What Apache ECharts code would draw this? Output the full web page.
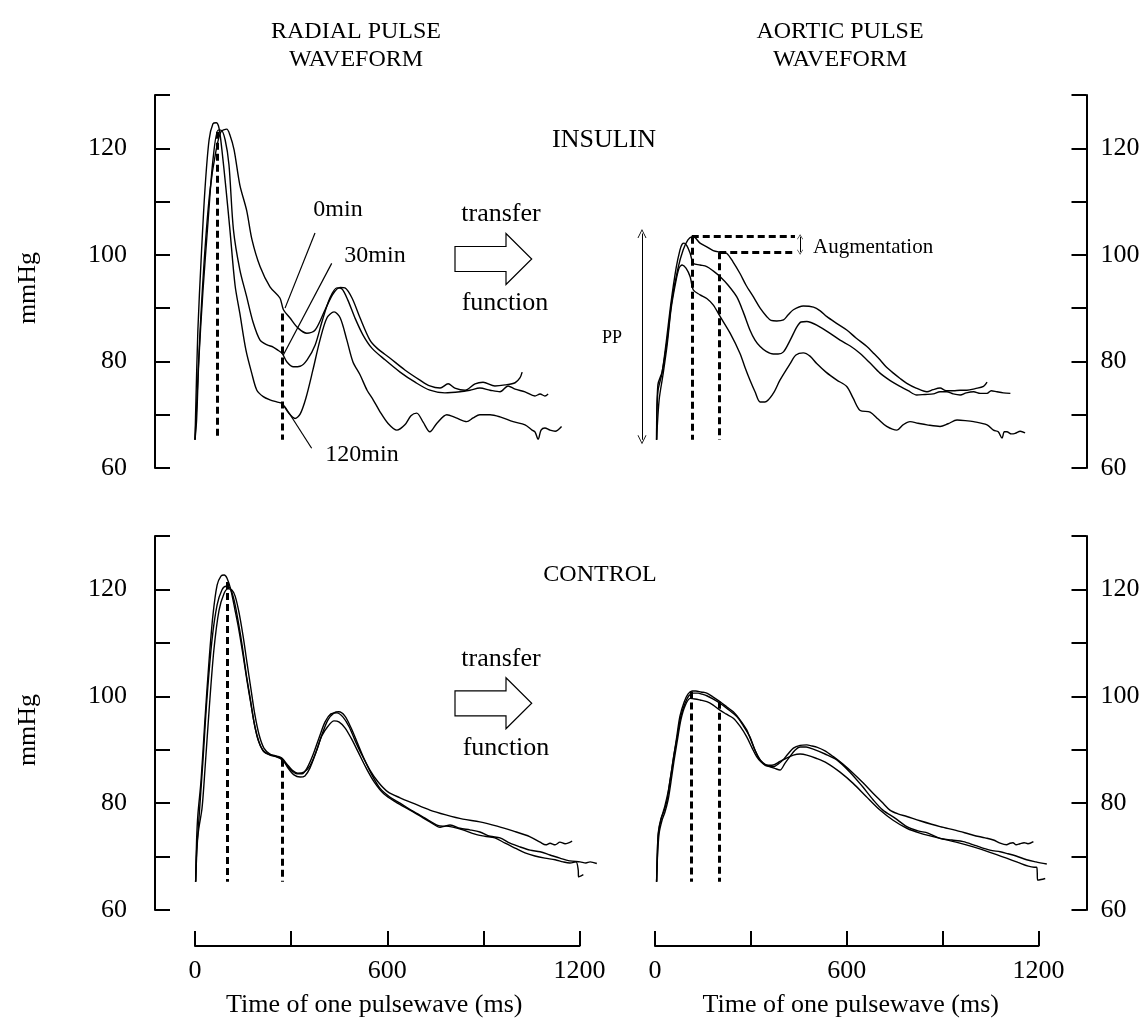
<!DOCTYPE html>
<html><head><meta charset="utf-8">
<script src="https://cdn.jsdelivr.net/npm/echarts/dist/echarts.min.js"></script>
<style>html,body{margin:0;padding:0;background:#fff}#c{width:1145px;height:1023px}</style>
</head><body><div id="c"></div>
<script>
// ---------- DATA (time in ms, pressure in mmHg) ----------
const radialInsulin0 = [[0,65.3],[6,72.8],[16,85.9],[31,100.9],[47,112.2],[66,119.7],[81,123.1],[99,123.6],[109,122.5],[122,119.7],[140,113.1],[161,108.4],[178,102.8],[203,97.8],[234,94.0],[265,91.9],[276,89.7],[296,88.2],[321,86.3],[349,85.3],[375,85.9],[406,89.7],[431,92.7],[453,93.9],[468,93.8],[490,91.9],[515,88.2],[546,84.0],[568,82.5],[609,80.6],[655,78.4],[702,76.5],[733,75.4],[765,75.0],[790,75.8],[811,75.0],[843,74.6],[874,75.8],[899,76.1],[936,75.4],[968,75.6],[999,76.0],[1014,76.9],[1021,78.0]];
const radialInsulin30 = [[0,65.3],[5,69.0],[12,80.3],[25,93.4],[41,106.5],[56,117.8],[72,123.4],[81,123.4],[94,121.6],[106,116.9],[120,104.7],[140,97.2],[161,92.2],[181,87.4],[203,84.0],[225,83.1],[244,82.7],[259,82.1],[272,81.5],[287,79.9],[307,79.0],[328,79.1],[350,80.3],[375,83.1],[396,87.4],[421,91.9],[443,93.8],[459,93.6],[477,91.5],[499,88.2],[524,85.0],[552,82.5],[593,80.3],[640,78.0],[687,76.1],[733,74.6],[780,74.1],[827,74.3],[858,74.6],[889,75.0],[921,74.6],[952,74.3],[977,75.4],[999,74.8],[1030,74.3],[1061,73.5],[1077,73.9],[1092,73.5],[1102,73.9]];
const radialInsulin120 = [[0,65.3],[3,72.8],[9,85.9],[19,99.0],[31,112.2],[44,121.6],[56,124.6],[66,124.8],[75,123.8],[84,119.7],[97,112.2],[109,104.7],[125,94.3],[140,89.0],[159,82.1],[177,77.8],[193,74.6],[213,73.4],[234,72.8],[255,72.4],[272,72.1],[290,70.5],[312,69.3],[328,70.1],[346,73.1],[368,78.4],[390,84.0],[412,88.2],[434,89.3],[453,88.2],[474,84.0],[493,79.9],[515,77.5],[537,74.6],[556,72.8],[577,70.6],[602,68.4],[630,67.1],[655,68.1],[674,69.8],[692,70.3],[712,68.6],[733,66.8],[755,68.4],[786,70.0],[815,69.4],[848,68.7],[868,69.4],[889,70.0],[921,70.0],[952,69.6],[993,68.7],[1030,68.1],[1052,67.1],[1061,66.8],[1071,65.4],[1080,67.1],[1092,67.5],[1108,67.1],[1124,66.9],[1144,67.8]];

const aorticInsulin0 = [[5,65.3],[9,75.6],[22,78.0],[38,84.0],[53,91.5],[72,97.5],[88,100.9],[103,102.8],[116,103.4],[120,103.4],[141,102.2],[162,101.5],[182,100.8],[204,100.5],[224,100.3],[244,98.7],[266,96.5],[285,94.3],[308,92.1],[329,90.0],[350,88.4],[363,87.7],[381,87.6],[402,87.8],[416,88.7],[433,89.7],[464,90.4],[496,90.2],[517,89.5],[538,88.4],[567,87.2],[600,85.9],[629,84.4],[663,82.8],[683,81.6],[704,80.3],[723,79.0],[746,77.8],[767,76.8],[788,75.9],[817,75.0],[851,74.3],[870,74.7],[892,75.0],[911,74.5],[934,74.5],[955,74.6],[976,74.6],[1002,74.9],[1028,75.3],[1039,76.1]];
const aorticInsulin30 = [[5,65.3],[9,74.3],[22,77.8],[34,83.1],[50,91.0],[66,97.5],[78,100.9],[85,102.0],[91,102.2],[100,101.7],[110,100.3],[120,98.4],[141,98.1],[162,97.8],[182,97.0],[204,95.9],[229,94.3],[256,92.1],[276,89.3],[297,85.9],[313,84.0],[329,82.8],[348,81.9],[370,81.4],[385,81.4],[402,81.8],[423,84.0],[444,86.5],[457,87.4],[475,87.5],[488,87.3],[506,86.8],[542,85.5],[579,84.0],[611,82.9],[642,81.5],[673,79.7],[704,77.8],[736,76.4],[767,75.3],[792,74.5],[819,73.7],[845,73.8],[871,73.9],[892,74.3],[913,74.3],[933,73.9],[955,73.7],[974,74.1],[997,74.3],[1018,74.0],[1039,74.0],[1052,74.5],[1070,74.3],[1090,74.1],[1112,74.0]];
const aorticInsulin120 = [[5,65.3],[13,72.8],[25,77.5],[38,83.1],[50,89.7],[63,94.3],[75,97.5],[85,98.1],[97,97.5],[110,95.9],[120,93.4],[141,92.5],[162,91.8],[182,90.6],[204,88.4],[235,85.3],[266,81.5],[282,78.8],[297,76.5],[313,74.3],[329,72.4],[344,72.4],[370,74.0],[391,76.5],[423,79.6],[441,81.2],[464,81.6],[485,81.0],[506,79.6],[535,78.0],[569,76.5],[600,75.3],[620,73.1],[642,70.8],[673,70.5],[698,69.2],[725,67.8],[757,67.1],[776,68.1],[798,68.7],[823,68.4],[851,68.1],[892,67.8],[917,68.3],[945,69.0],[971,68.9],[997,68.7],[1039,68.1],[1059,67.1],[1074,66.8],[1086,65.6],[1093,66.8],[1101,66.8],[1115,66.4],[1127,66.5],[1143,66.9],[1158,66.6]];

const radialControlA = [[2,65.3],[5,73.1],[9,77.8],[19,84.3],[31,95.6],[44,106.8],[56,115.2],[69,120.8],[81,122.5],[91,122.7],[100,122.1],[112,119.9],[125,116.1],[137,112.4],[150,107.7],[162,103.0],[175,98.4],[187,94.3],[200,91.4],[215,89.6],[234,89.0],[256,88.6],[272,88.1],[287,87.1],[303,86.0],[318,85.5],[334,85.5],[350,86.6],[368,89.0],[387,92.2],[406,95.2],[424,96.7],[443,96.9],[462,96.1],[481,94.3],[499,91.8],[521,89.0],[546,86.2],[571,84.0],[602,82.1],[640,81.0],[680,80.0],[733,78.7],[783,77.8],[836,77.0],[889,76.5],[943,75.7],[992,74.8],[1046,73.7],[1077,72.7],[1095,72.2],[1108,72.5],[1124,72.2],[1139,72.7],[1155,72.4],[1177,72.9]];
const radialControlB = [[2,65.3],[6,71.2],[12,76.8],[25,88.1],[37,99.3],[53,110.5],[69,117.1],[84,119.9],[97,120.6],[109,120.3],[122,118.0],[134,114.3],[147,109.6],[159,104.5],[172,99.7],[184,95.2],[197,91.8],[212,89.9],[228,89.2],[250,88.8],[272,88.3],[290,86.6],[309,85.3],[328,84.9],[343,85.1],[359,86.6],[378,89.6],[396,92.8],[415,95.6],[434,96.9],[449,97.1],[468,96.3],[487,94.1],[506,91.4],[527,88.4],[552,85.3],[577,82.8],[609,81.1],[640,80.0],[680,78.5],[718,77.2],[755,75.9],[774,75.7],[796,75.9],[827,75.3],[858,75.0],[889,74.6],[921,73.8],[952,73.5],[983,72.5],[1014,71.8],[1046,71.2],[1077,70.9],[1108,70.3],[1139,69.7],[1170,69.2],[1202,69.0],[1220,68.8],[1233,69.0],[1254,68.7]];
const radialControlC = [[2,65.3],[6,72.2],[12,75.3],[22,79.1],[31,86.2],[44,97.4],[59,108.7],[75,116.1],[91,119.3],[103,120.1],[115,119.9],[125,118.8],[137,115.8],[150,111.3],[162,106.4],[175,101.2],[187,96.5],[200,92.8],[215,90.3],[234,89.2],[256,88.8],[272,88.4],[287,87.3],[303,86.2],[321,85.6],[340,85.8],[359,87.0],[378,89.6],[396,92.6],[415,94.4],[434,95.4],[449,95.2],[468,94.1],[487,92.2],[509,89.6],[534,86.6],[559,84.0],[590,81.7],[627,80.2],[671,78.7],[702,77.6],[733,76.5],[765,75.5],[783,75.7],[805,75.5],[836,75.0],[874,74.2],[905,73.8],[936,73.5],[968,72.5],[999,71.6],[1030,70.7],[1061,70.1],[1092,69.7],[1124,69.4],[1149,69.0],[1170,68.8],[1189,69.0],[1196,67.5],[1197,66.2],[1205,66.4],[1212,66.6]];

const aorticControlA = [[5,65.3],[8,71.2],[10,74.4],[19,77.2],[28,78.5],[38,80.6],[47,84.3],[57,88.1],[69,92.8],[78,96.3],[91,98.9],[103,100.4],[116,101.0],[128,101.0],[144,100.8],[162,100.6],[181,99.9],[203,99.0],[225,98.0],[245,97.1],[266,95.6],[287,93.7],[300,91.8],[313,89.9],[325,88.4],[339,87.5],[354,87.0],[370,86.8],[385,87.3],[401,88.1],[416,89.2],[433,90.3],[454,90.8],[475,90.9],[491,90.7],[506,90.5],[532,89.8],[558,88.7],[588,87.3],[620,85.6],[651,83.8],[683,81.8],[710,80.2],[735,78.7],[760,78.0],[788,77.5],[829,76.7],[892,75.6],[942,74.9],[996,74.0],[1033,73.5],[1059,73.1],[1080,72.5],[1100,72.2],[1111,72.5],[1120,72.6],[1130,72.2],[1142,72.4],[1155,72.6],[1167,72.4],[1184,72.8]];
const aorticControlB = [[5,65.3],[8,72.2],[13,75.3],[22,77.6],[31,79.5],[41,82.1],[50,85.3],[59,89.0],[69,92.2],[81,96.3],[94,98.7],[106,100.1],[120,100.6],[135,100.6],[147,100.4],[162,100.1],[181,99.5],[203,98.7],[228,97.6],[256,96.2],[275,94.6],[297,92.4],[313,89.9],[329,88.1],[344,87.1],[360,86.8],[375,86.5],[391,86.2],[407,87.5],[422,88.7],[438,89.9],[454,90.5],[473,90.5],[495,90.1],[532,89.2],[569,88.1],[610,85.8],[648,83.2],[683,80.6],[713,78.7],[751,77.2],[788,75.6],[823,74.8],[854,74.4],[892,73.4],[929,73.1],[965,72.8],[1001,72.1],[1048,71.2],[1080,70.9],[1100,70.6],[1130,70.1],[1163,69.4],[1192,69.0],[1226,68.6]];
const aorticControlC = [[5,65.3],[8,70.3],[13,74.4],[22,76.8],[31,78.3],[41,80.6],[50,84.0],[59,87.7],[69,91.4],[81,95.6],[94,98.2],[110,99.6],[125,99.5],[141,99.3],[162,99.0],[181,98.4],[203,97.4],[222,96.7],[245,95.9],[266,94.4],[287,92.4],[304,90.3],[318,88.7],[332,87.7],[350,87.1],[366,87.1],[391,87.8],[410,88.4],[433,89.0],[454,89.2],[475,89.0],[504,88.4],[538,87.5],[579,85.8],[620,83.7],[660,81.3],[704,78.7],[745,76.8],[788,75.3],[829,74.4],[892,73.4],[942,72.7],[996,71.8],[1048,70.8],[1100,69.7],[1136,68.9],[1168,68.2],[1186,68.0],[1194,68.0],[1196,67.1],[1197,65.6],[1208,65.7],[1221,65.9]];

// annotation markers (ms, mmHg)
const radialInsulinMarks = [[69.6,123.1],[272.5,89.0]];
const aorticInsulinMarks = [[115,103.4],[201,100.5]];
const radialControlMarks = [[102,121.4],[272.5,88.1]];
const aorticControlMarks = [[112,100.9],[201,99.0]];
const markBase = 65.3;
const augmentationEnd = 438;
const augmentationArrowX = 454;
const ppArrow = [-40.7, 104.0, 65.3];
const leaderLines = [[[374.5,104.1],[281,90.0]],[[426.6,98.4],[275.6,81.2]],[[281,71.5],[364,63.7]]];

const xTicks = [0,300,600,900,1200];
const xLabels = [0,600,1200];
const yMin = 60, yMax = 130, yStep = 10;

// ---------- LAYOUT ----------
const FONT = '"Liberation Serif", "Times New Roman", serif';
const L0 = 195, L1200 = 579.5, R0 = 655, R1200 = 1038.5;
const pxL = (L1200 - L0) / 1200, pxR = (R1200 - R0) / 1200;
const gLeft = 155, gLeftW = 470, gRight = 600, gRightW = 486.5;
const xLmin = -(L0 - gLeft) / pxL, xLmax = (gLeft + gLeftW - L0) / pxL;
const xRmin = -(R0 - gRight) / pxR, xRmax = (gRight + gRightW - R0) / pxR;

const grids = [
  {left: gLeft, top: 95, width: gLeftW, height: 373},
  {left: gRight, top: 95, width: gRightW, height: 373},
  {left: gLeft, top: 536, width: gLeftW, height: 374},
  {left: gRight, top: 536, width: gRightW, height: 374},
  {left: L0, top: 900, width: L1200 - L0, height: 46},
  {left: R0, top: 900, width: R1200 - R0, height: 46}
];

function hiddenX(i, mn, mx) { return {type: 'value', gridIndex: i, min: mn, max: mx, show: false}; }
function visX(i, pad) {
  return {type: 'value', gridIndex: i, min: 0, max: 1200, position: 'bottom',
    axisLine: {show: true, onZero: false, lineStyle: {color: '#000', width: 2}},
    axisTick: {show: true, inside: true, length: 15, lineStyle: {color: '#000', width: 2}, customValues: xTicks},
    axisLabel: {show: true, customValues: xLabels, color: '#000', fontSize: 26, fontFamily: FONT, margin: 12,
      formatter: v => String(v)},
    splitLine: {show: false},
    name: 'Time of one pulsewave (ms)', nameLocation: 'middle', nameGap: 46,
    nameTextStyle: {color: '#000', fontSize: 26, fontFamily: FONT, padding: pad}};
}
function yAx(i, pos, withName, pad) {
  const a = {type: 'value', gridIndex: i, position: pos, min: yMin, max: yMax, interval: yStep,
    axisLine: {show: true, onZero: false, lineStyle: {color: '#000', width: 2}},
    axisTick: {show: true, inside: true, length: 15, lineStyle: {color: '#000', width: 2}},
    axisLabel: {show: true, color: '#000', fontSize: 26, fontFamily: FONT, margin: pos === 'left' ? 28 : 14,
      formatter: v => (v % 20 === 0 ? String(v) : '')},
    splitLine: {show: false}};
  if (withName) {
    a.name = 'mmHg'; a.nameLocation = 'middle'; a.nameGap = 114; a.nameRotate = 90;
    a.nameTextStyle = {color: '#000', fontSize: 26, fontFamily: FONT, padding: pad};
  }
  return a;
}
const dummyY = i => ({type: 'value', gridIndex: i, min: 0, max: 1, show: false});

const lineStyle = {color: '#000', width: 1.4};
function curve(data, idx, extra) {
  return Object.assign({type: 'line', xAxisIndex: idx, yAxisIndex: idx, data: data, symbol: 'none',
    showSymbol: false, smooth: 0.3, lineStyle: lineStyle, silent: true, clip: false, z: 3}, extra || {});
}
const dashStyle = {color: '#000', width: 3, type: [7, 4]};
function dashMarks(marks, extraLines) {
  const d = marks.map(m => [{coord: [m[0], m[1]]}, {coord: [m[0], markBase]}]);
  return {silent: true, symbol: 'none', animation: false, label: {show: false},
    lineStyle: dashStyle, data: d.concat(extraLines || [])};
}
const chevron = 'path://M0,10 L5,0 L10,10 L9,10 L5,2 L1,10 Z';

const option = {
  animation: false,
  backgroundColor: '#fff',
  grid: grids,
  xAxis: [hiddenX(0, xLmin, xLmax), hiddenX(1, xRmin, xRmax), hiddenX(2, xLmin, xLmax), hiddenX(3, xRmin, xRmax),
          visX(4, [0, 26, 0, 0]), visX(5, [0, 0, 0, 8])],
  yAxis: [yAx(0, 'left', true, [0, 13, 0, 0]), yAx(1, 'right', false), yAx(2, 'left', true, [0, 14, 0, 0]), yAx(3, 'right', false), dummyY(4), dummyY(5)],
  series: [
    curve(radialInsulin0, 0, {markLine: dashMarks(radialInsulinMarks)}),
    curve(radialInsulin30, 0, {markLine: {silent: true, symbol: 'none', label: {show: false},
      lineStyle: {color: '#000', width: 1.2, type: 'solid'},
      data: leaderLines.map(l => [{coord: l[0]}, {coord: l[1]}])}}),
    curve(radialInsulin120, 0),
    curve(aorticInsulin0, 1, {markLine: dashMarks(aorticInsulinMarks, [
      [{coord: aorticInsulinMarks[0]}, {coord: [augmentationEnd, aorticInsulinMarks[0][1]]}],
      [{coord: aorticInsulinMarks[1]}, {coord: [augmentationEnd, aorticInsulinMarks[1][1]]}]])}),
    curve(aorticInsulin30, 1, {markLine: {silent: true, label: {show: false},
      symbol: [chevron, chevron], symbolSize: [9, 9],
      lineStyle: {color: '#000', width: 1, type: 'solid'},
      data: [
        [{coord: [ppArrow[0], ppArrow[1]]}, {coord: [ppArrow[0], ppArrow[2]]}],
        [{coord: [augmentationArrowX, aorticInsulinMarks[0][1]], symbolSize: [6, 5]},
         {coord: [augmentationArrowX, aorticInsulinMarks[1][1]], symbolSize: [6, 5]}]
      ]}}),
    curve(aorticInsulin120, 1),
    curve(radialControlA, 2, {markLine: dashMarks(radialControlMarks)}),
    curve(radialControlB, 2),
    curve(radialControlC, 2),
    curve(aorticControlA, 3, {markLine: dashMarks(aorticControlMarks)}),
    curve(aorticControlB, 3),
    curve(aorticControlC, 3)
  ],
  graphic: []
};

function txt(t, x, y, size, align) {
  return {type: 'text', silent: true, z: 10, style: {text: t, x: x, y: y, fill: '#000',
    font: size + 'px ' + FONT, fontSize: size, fontFamily: FONT,
    align: align || 'center', textAlign: align || 'center', verticalAlign: 'middle', textVerticalAlign: 'middle'}};
}
function hollowArrow(cy) {
  return {type: 'polygon', silent: true, z: 10,
    shape: {points: [[455, cy - 12.5], [506, cy - 12.5], [506, cy - 25.5], [531.7, cy], [506, cy + 25.5], [506, cy + 12.5], [455, cy + 12.5]]},
    style: {fill: '#fff', stroke: '#000', lineWidth: 1.2}};
}
option.graphic = [
  txt('RADIAL PULSE', 356, 32, 24), txt('WAVEFORM', 356, 60, 24),
  txt('AORTIC PULSE', 840, 32, 24), txt('WAVEFORM', 840, 60, 24),
  txt('INSULIN', 604, 140, 26), txt('CONTROL', 600, 575, 24),
  txt('0min', 338, 210, 24), txt('30min', 375, 256, 24), txt('120min', 362, 455, 24),
  txt('transfer', 501, 214, 26), txt('function', 505, 303, 26), hollowArrow(259),
  txt('transfer', 501, 659, 26), txt('function', 506, 748, 26), hollowArrow(703.3),
  txt('PP', 612, 338, 18), txt('Augmentation', 813, 247, 21, 'left')
];

const chart = echarts.init(document.getElementById('c'), null, {renderer: 'canvas'});
chart.setOption(option);
</script>
</body></html>
